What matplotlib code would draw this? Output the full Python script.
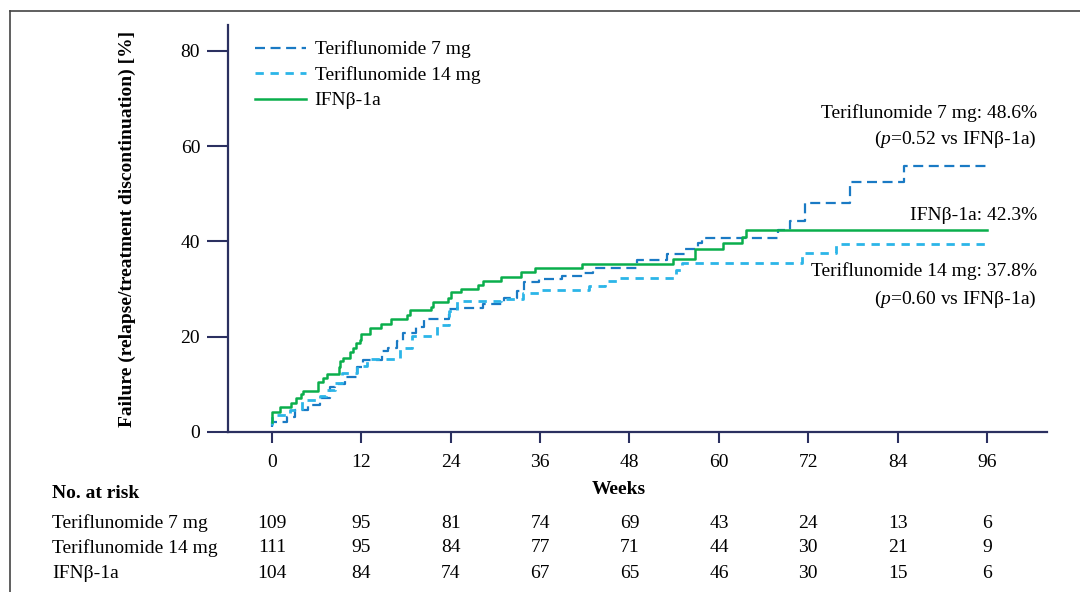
import matplotlib
matplotlib.use('Agg')
import matplotlib.pyplot as plt
from matplotlib.lines import Line2D
from matplotlib.transforms import blended_transform_factory

plt.rcParams['font.family'] = ['Liberation Serif', 'DejaVu Serif']
plt.rcParams['mathtext.fontset'] = 'custom'
plt.rcParams['mathtext.rm'] = 'Liberation Serif'
plt.rcParams['mathtext.it'] = 'Liberation Serif:italic'

# Kaplan-Meier style failure curves (weeks, cumulative %)
weeks_7mg = [0, 0, 2.0, 3.1, 4.9, 6.5, 7.8, 8.5, 9.8, 11.4, 12.2, 14.8, 15.6, 16.8, 17.6,
             19.4, 20.4, 23.8, 24.8, 28.4, 31.1, 32.9, 33.8, 35.9, 38.9, 41.7, 43.1,
             49.0, 53.0, 55.4, 57.2, 57.8, 68.0, 69.6, 71.6, 77.6, 84.9, 96]
fail_7mg = [1.0, 2.2, 3.2, 4.6, 5.7, 7.1, 9.5, 10.1, 11.6, 13.6, 15.1, 16.9, 17.6, 19.0, 20.7,
            22.0, 23.7, 25.8, 26.0, 26.8, 28.1, 29.6, 31.4, 32.1, 32.8, 33.3, 34.5,
            36.1, 37.4, 38.5, 39.6, 40.8, 42.4, 44.3, 48.0, 52.4, 55.9, 55.9]

weeks_14mg = [0, 0, 2.4, 4.0, 6.4, 7.3, 8.5, 9.4, 11.4, 12.8, 17.2, 18.8, 22.1, 23.8, 24.8,
              30.8, 33.7, 36.0, 42.6, 44.7, 46.3, 54.3, 55.0, 71.2, 75.7, 96]
fail_14mg = [1.5, 3.6, 4.6, 6.7, 7.6, 8.8, 10.2, 12.3, 13.9, 15.3, 17.6, 20.2, 22.5, 25.3, 27.4,
             28.0, 29.1, 29.7, 30.7, 31.6, 32.3, 34.0, 35.5, 37.5, 39.4, 39.4]

weeks_ifn = [0, 0, 1.1, 2.6, 3.2, 3.9, 4.2, 6.2, 6.8, 7.4, 9.0, 9.1, 9.6, 10.5, 10.9, 11.3,
             11.8, 12.0, 13.2, 14.6, 16.0, 18.1, 18.5, 21.3, 21.6, 23.7, 24.0, 25.4, 27.7,
             28.3, 30.7, 33.4, 35.3, 41.6, 53.9, 56.8, 60.5, 63.1, 63.6, 96]
fail_ifn = [2.0, 4.2, 5.3, 6.1, 7.1, 7.9, 8.7, 10.4, 11.3, 12.1, 13.6, 14.8, 15.5, 16.7, 17.6, 18.6,
            19.3, 20.6, 21.8, 22.6, 23.7, 24.6, 25.5, 26.3, 27.2, 28.1, 29.3, 30.0, 30.9,
            31.7, 32.5, 33.5, 34.5, 35.2, 36.3, 38.5, 39.6, 41.0, 42.3, 42.3]

# Number at risk table
risk_weeks = [0, 12, 24, 36, 48, 60, 72, 84, 96]
risk_labels = ['Teriflunomide 7 mg', 'Teriflunomide 14 mg', 'IFNβ-1a']
risk_7mg = [109, 95, 81, 74, 69, 43, 24, 13, 6]
risk_14mg = [111, 95, 84, 77, 71, 44, 30, 21, 9]
risk_ifn = [104, 84, 74, 67, 65, 46, 30, 15, 6]

axis_col = '#2b3060'
c7 = '#1a7ac4'
c14 = '#2cb5e8'
cifn = '#0aae4c'

fig = plt.figure(figsize=(10.8, 5.92), dpi=100)
ax = fig.add_axes([228 / 1080, 160 / 592, 819 / 1080, 407 / 592])

ax.step(weeks_7mg, fail_7mg, where='post', color=c7, lw=1.6, dashes=(4.5, 2.5),
        label='Teriflunomide 7 mg')
ax.step(weeks_14mg, fail_14mg, where='post', color=c14, lw=2.0, dashes=(3, 2.4),
        label='Teriflunomide 14 mg')
ax.step(weeks_ifn, fail_ifn, where='post', color=cifn, lw=1.8, label='IFNβ-1a')

ax.set_xlim(-5.9, 104.05)
ax.set_ylim(0, 85.4)
ax.set_xticks(risk_weeks)
ax.set_yticks([0, 20, 40, 60, 80])
for s in ['top', 'right']:
    ax.spines[s].set_visible(False)
for s in ['left', 'bottom']:
    ax.spines[s].set_color(axis_col)
    ax.spines[s].set_linewidth(1.6)
ax.tick_params(axis='x', direction='out', length=8, width=1.5, color=axis_col,
               labelsize=14, pad=8)
ax.tick_params(axis='y', direction='out', length=15, width=1.5, color=axis_col,
               labelsize=14, pad=5)

ax.set_ylabel('Failure (relapse/treatment discontinuation) [%]', fontsize=14,
              fontweight='bold', labelpad=32)

ax.legend(loc='upper left', bbox_to_anchor=(0.012, 1.005), frameon=False, fontsize=14,
          handlelength=2.6, labelspacing=0.4, handletextpad=0.45)

# annotations at right
ax.text(102.7, 67.0, 'Teriflunomide 7 mg: 48.6%', ha='right', va='center', fontsize=14)
ax.text(102.7, 61.3, '($\\mathit{p}$=0.52 vs IFNβ-1a)', ha='right', va='center', fontsize=14)
ax.text(102.7, 45.4, 'IFNβ-1a: 42.3%', ha='right', va='center', fontsize=14)
ax.text(102.7, 33.8, 'Teriflunomide 14 mg: 37.8%', ha='right', va='center', fontsize=14)
ax.text(102.7, 27.9, '($\\mathit{p}$=0.60 vs IFNβ-1a)', ha='right', va='center', fontsize=14)

# weeks label and risk table
fig.text(619 / 1080, 1 - 489 / 592, 'Weeks', ha='center', va='center', fontsize=14,
         fontweight='bold')
fig.text(52 / 1080, 1 - 494 / 592, 'No. at risk', ha='left', va='center', fontsize=14,
         fontweight='bold')
tr = blended_transform_factory(ax.transData, fig.transFigure)
row_y = [523, 548, 574]
for label, counts, py in zip(risk_labels, [risk_7mg, risk_14mg, risk_ifn], row_y):
    fig.text(52 / 1080, 1 - py / 592, label, ha='left', va='center', fontsize=14)
    for w, n in zip(risk_weeks, counts):
        ax.text(w, 1 - py / 592, str(n), transform=tr, ha='center', va='center',
                fontsize=14, clip_on=False)

# outer frame (top and left edges visible)
fig.add_artist(Line2D([10 / 1080, 10 / 1080], [0, 1 - 11 / 592], transform=fig.transFigure,
                      color='#444444', lw=1.2))
fig.add_artist(Line2D([10 / 1080, 1], [1 - 11 / 592, 1 - 11 / 592], transform=fig.transFigure,
                      color='#444444', lw=1.2))

plt.savefig('out.png', dpi=100)
plt.close()
